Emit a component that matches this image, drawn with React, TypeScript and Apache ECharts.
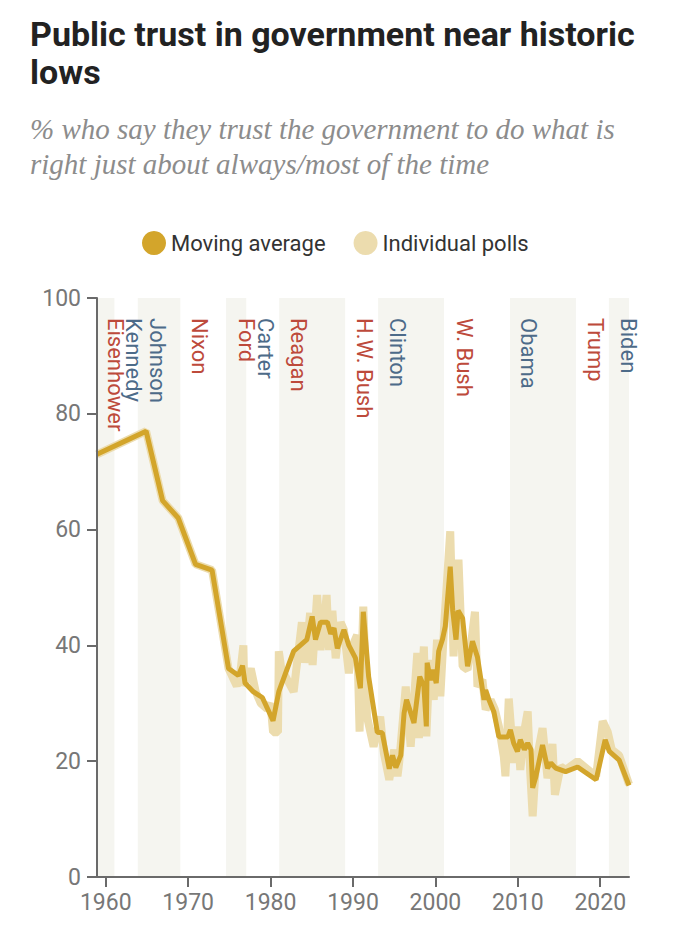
import React, { useEffect, useRef } from 'react';
import * as echarts from 'echarts';

const TITLE = 'Public trust in government near historic\nlows';
const SUBTITLE = '% who say they trust the government to do what is\nright just about always/most of the time';

const yearTicks = [1960, 1970, 1980, 1990, 2000, 2010, 2020];
const X_MIN = 1958.94;
const X_MAX = 2023.49;

const presidents = ['Eisenhower', 'Kennedy', 'Johnson', 'Nixon', 'Ford', 'Carter', 'Reagan', 'H.W. Bush', 'Clinton', 'W. Bush', 'Obama', 'Trump', 'Biden'];
const termStart = [1953.05, 1961.05, 1963.89, 1969.05, 1974.6, 1977.05, 1981.05, 1989.05, 1993.05, 2001.05, 2009.05, 2017.05, 2021.05];
const parties = ['R', 'D', 'D', 'R', 'R', 'D', 'R', 'R', 'D', 'R', 'D', 'R', 'D'];
const labelYears = [1961.17, 1963.31, 1966.28, 1971.41, 1977.09, 1979.39, 1983.35, 1991.45, 1995.38, 2003.48, 2011.29, 2019.39, 2023.43];

const movingAverage: [number, number][] = [
  [1958.94, 73], [1964.9, 77], [1966.9, 65], [1968.8, 62], [1970.9, 54], [1972.9, 53], [1974.9, 36],
  [1976.1, 34.8], [1976.6, 36.5], [1976.9, 33.5], [1977.9, 32], [1979.0, 31], [1980.3, 27], [1981.0, 32],
  [1982.8, 39], [1984.4, 41], [1985.05, 45], [1985.45, 41], [1986.06, 44], [1986.9, 44], [1987.3, 42],
  [1987.7, 43], [1988.1, 39.5], [1988.9, 42.7], [1989.5, 40], [1990.3, 37.8], [1990.9, 32.6], [1991.25, 45.8],
  [1991.9, 34.6], [1992.95, 25], [1993.55, 24.9], [1994.4, 18.7], [1994.8, 21], [1995.2, 18.9], [1995.8, 21],
  [1996.2, 28.3], [1996.5, 30.6], [1997.4, 26.6], [1998.1, 34.6], [1998.6, 33], [1998.9, 26], [1999.0, 37],
  [1999.4, 34], [1999.7, 35.8], [2000.1, 33.5], [2000.4, 39], [2000.85, 41], [2001.2, 43.3], [2001.8, 53.6],
  [2002.1, 46], [2002.5, 41], [2002.75, 46], [2003.3, 44.7], [2003.9, 36.4], [2004.5, 40.7], [2005.1, 38],
  [2005.9, 30.6], [2006.1, 32.3], [2006.5, 30.6], [2007.1, 28.5], [2007.7, 24.2], [2008.8, 24.2], [2009.1, 25.4],
  [2009.5, 23.1], [2009.95, 21.7], [2010.3, 23.7], [2010.8, 22], [2011.2, 23.1], [2011.6, 22], [2011.8, 15.4],
  [2012.2, 17.4], [2013.0, 22.8], [2013.6, 18.8], [2014.0, 19.7], [2014.6, 18.8], [2015.8, 18.2], [2017.25, 19],
  [2019.5, 16.8], [2020.6, 23.7], [2021.1, 21.7], [2022.3, 20.2], [2023.49, 15.8],
];

const individualPolls: [number, number][] = [
  [1958.94, 73], [1964.9, 77], [1966.9, 65], [1968.8, 62], [1970.9, 54], [1972.9, 53], [1974.9, 36],
  [1975.9, 33], [1976.3, 35], [1976.7, 40], [1976.8, 33], [1977.6, 36], [1978.2, 32], [1978.8, 30],
  [1979.6, 29], [1980.0, 30], [1980.3, 25], [1980.9, 25], [1981.0, 39], [1981.3, 36], [1982.8, 32],
  [1983.8, 44], [1984.2, 37], [1984.8, 45.6], [1985.1, 36.6], [1985.65, 48.7], [1986.06, 39.2], [1986.5, 44],
  [1986.8, 48.7], [1987.1, 39.2], [1987.5, 46], [1987.9, 37.8], [1988.5, 44], [1988.9, 42.7], [1989.5, 35.2],
  [1989.9, 39.8], [1990.5, 41.8], [1990.8, 25.1], [1991.25, 46.7], [1991.7, 27.7], [1992.5, 22.5], [1993.3, 27.7],
  [1993.75, 21.4], [1994.4, 16.8], [1995.0, 22], [1995.4, 17.4], [1995.6, 19.7], [1996.4, 32.9], [1997.0, 22.5],
  [1997.8, 38.7], [1998.0, 24], [1998.6, 39.8], [1998.9, 24.3], [1999.3, 37.5], [1999.8, 30.6], [2000.2, 41],
  [2000.6, 31.2], [2001.1, 44.4], [2001.8, 59.7], [2002.2, 38.1], [2002.8, 54.8], [2003.3, 36.4], [2003.9, 35.8],
  [2004.3, 40], [2004.8, 45.8], [2005.1, 32.9], [2005.7, 34.1], [2006.1, 28.9], [2006.7, 30.6], [2007.2, 29],
  [2007.7, 26], [2008.3, 20.8], [2008.5, 17.4], [2008.9, 30.8], [2009.5, 19.7], [2009.95, 26], [2010.3, 18.5],
  [2010.8, 25.4], [2011.2, 28.6], [2011.5, 18.2], [2011.8, 10.5], [2012.2, 19.7], [2013.0, 25.7], [2013.6, 17.1],
  [2014.0, 19.4], [2014.2, 23], [2014.5, 14.2], [2015.2, 19.1], [2015.8, 18.5], [2017.25, 20], [2019.5, 17.4],
  [2020.3, 26.9], [2020.9, 25.1], [2021.4, 22], [2022.3, 21], [2023.49, 16],
];

const COLOR_MA = '#d3a52b';
const COLOR_POLLS = '#ecdcae';
const COLOR_BAND = '#f5f5f0';
const COLOR_R = '#bd4a3b';
const COLOR_D = '#4d6b89';
const AXIS_COLOR = '#6a6a6a';
const SANS = 'Roboto, "Liberation Sans", Arial, sans-serif';

export default function App() {
  const ref = useRef<HTMLDivElement>(null);

  useEffect(() => {
    if (!ref.current) return;
    const chart = echarts.init(ref.current, null, { renderer: 'svg' });

    const termEnd = termStart.map((s, i) => (i < termStart.length - 1 ? termStart[i + 1] : X_MAX));
    const bands = presidents
      .map((p, i) => ({ p, i }))
      .filter(({ i }) => i % 2 === 0)
      .map(({ i }) => [{ xAxis: Math.max(termStart[i], X_MIN) }, { xAxis: Math.min(termEnd[i], X_MAX) }]);

    const headerGraphics: any[] = [
      {
        type: 'text', id: 'title', left: 30, top: 15, z: 100,
        style: {
          text: TITLE, fill: '#222', font: `bold 34px ${SANS}`, lineHeight: 38,
        },
      },
      {
        type: 'text', id: 'subtitle', left: 30, top: 111, z: 100,
        style: {
          text: SUBTITLE, fill: '#8c8c8c', font: 'italic 29px "Liberation Serif", "DejaVu Serif", serif', lineHeight: 35,
        },
      },
    ];

    const axisCommon = {
      z: 10,
      axisLine: { show: true, lineStyle: { color: AXIS_COLOR, width: 2 } },
      splitLine: { show: false },
    };

    chart.setOption({
      animation: false,
      backgroundColor: '#ffffff',
      grid: { left: 97, right: 71, top: 298, bottom: 59, containLabel: false },
      legend: {
        left: 137, top: 226, itemWidth: 24, itemHeight: 24, itemGap: 28, icon: 'circle',
        data: ['Moving average', 'Individual polls'],
        textStyle: { fontSize: 22, color: '#333', fontFamily: SANS },
      },
      xAxis: {
        type: 'value', min: X_MIN, max: X_MAX,
        ...axisCommon,
        axisTick: { show: true, length: 10, customValues: yearTicks, lineStyle: { color: AXIS_COLOR, width: 2 } },
        axisLabel: {
          customValues: yearTicks, color: '#777', fontSize: 23, fontFamily: SANS, margin: 14,
          formatter: (v: number) => String(v),
        },
      },
      yAxis: {
        type: 'value', min: 0, max: 100, interval: 20,
        ...axisCommon,
        axisTick: { show: true, length: 10, lineStyle: { color: AXIS_COLOR, width: 2 } },
        axisLabel: { color: '#777', fontSize: 23, fontFamily: SANS, margin: 16 },
      },
      series: [
        {
          name: 'Individual polls', type: 'line', data: individualPolls, symbol: 'none', z: 2,
          lineStyle: { color: COLOR_POLLS, width: 8 }, itemStyle: { color: COLOR_POLLS },
          markArea: { silent: true, z: 0, label: { show: false }, itemStyle: { color: COLOR_BAND }, data: bands },
        },
        {
          name: 'Moving average', type: 'line', data: movingAverage, symbol: 'none', z: 3,
          lineStyle: { color: COLOR_MA, width: 5 }, itemStyle: { color: COLOR_MA },
        },
      ],
      graphic: headerGraphics,
    });

    const topY = chart.convertToPixel({ yAxisIndex: 0 }, 100) as number;
    const labelGraphics = presidents.map((name, i) => {
      const x = chart.convertToPixel({ xAxisIndex: 0 }, labelYears[i]) as number;
      return {
        type: 'text', id: 'pres' + i, x, y: topY + 20, rotation: -Math.PI / 2, z: 100,
        style: {
          text: name, fill: parties[i] === 'R' ? COLOR_R : COLOR_D,
          font: `22px ${SANS}`, align: 'left', verticalAlign: 'middle',
        },
      };
    });
    chart.setOption({ graphic: [...headerGraphics, ...labelGraphics] });

    return () => chart.dispose();
  }, []);

  return <div ref={ref} style={{ position: 'absolute', left: 0, top: 0, width: 700, height: 936 }} />;
}
